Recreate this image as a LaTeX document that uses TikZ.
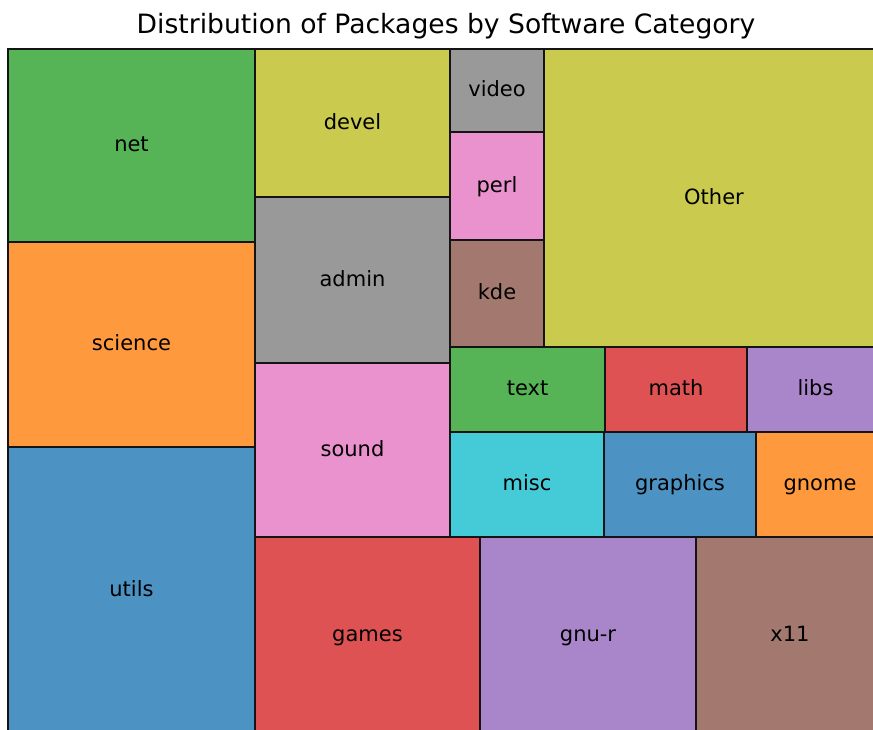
\documentclass[tikz,border=0pt]{standalone}
\usepackage{fontspec}
\setmainfont{DejaVu Sans}
\usetikzlibrary{calc}
\definecolor{cblue}{HTML}{4C92C3}
\definecolor{corange}{HTML}{FF993E}
\definecolor{cgreen}{HTML}{56B356}
\definecolor{cred}{HTML}{DE5253}
\definecolor{cpurple}{HTML}{A985CA}
\definecolor{cbrown}{HTML}{A3786F}
\definecolor{cpink}{HTML}{E992CE}
\definecolor{cgray}{HTML}{999999}
\definecolor{colive}{HTML}{C9CA4E}
\definecolor{ccyan}{HTML}{45CBD8}
\tikzset{
  cellline/.style={draw=black!92, line width=2pt},
  lab/.style={font=\fontsize{21}{25}\selectfont, text=black, inner sep=0pt, text height=12.6pt, text depth=0pt},
  titlelab/.style={font=\fontsize{26.6}{31}\selectfont, text=black, inner sep=0pt, anchor=base}
}
\newcommand{\tmcell}[7]{%
  \draw[cellline, fill=#6] (#2,#3) rectangle (#4,#5);
  \node[lab] (#1) at ($(#2,#3)!0.5!(#4,#5)$) {#7};
}
\begin{document}
\begin{tikzpicture}[x=1pt,y=-1pt]
\useasboundingbox (0,0) rectangle (873,729);
\fill[white] (0,0) rectangle (873,729);
\clip (0,0) rectangle (873,729);
\node[titlelab] (title) at (446,33.5) {Distribution of Packages by Software Category};
\tmcell{net}{8}{49}{255}{242}{cgreen}{net}
\tmcell{science}{8}{242}{255}{447}{corange}{science}
\tmcell{utils}{8}{447}{255}{734}{cblue}{utils}
\tmcell{devel}{255}{49}{450}{197}{colive}{devel}
\tmcell{admin}{255}{197}{450}{363}{cgray}{admin}
\tmcell{sound}{255}{363}{450}{537}{cpink}{sound}
\tmcell{games}{255}{537}{480}{734}{cred}{games}
\tmcell{gnur}{480}{537}{696}{734}{cpurple}{gnu-r}
\tmcell{xeleven}{696}{537}{884}{734}{cbrown}{x11}
\tmcell{video}{450}{49}{544}{132}{cgray}{video}
\tmcell{perl}{450}{132}{544}{240}{cpink}{perl}
\tmcell{kde}{450}{240}{544}{347}{cbrown}{kde}
\tmcell{other}{544}{49}{884}{347}{colive}{Other}
\tmcell{text}{450}{347}{605}{432}{cgreen}{text}
\tmcell{math}{605}{347}{747}{432}{cred}{math}
\tmcell{libs}{747}{347}{884}{432}{cpurple}{libs}
\tmcell{misc}{450}{432}{604}{537}{ccyan}{misc}
\tmcell{graphics}{604}{432}{756}{537}{cblue}{graphics}
\tmcell{gnome}{756}{432}{884}{537}{corange}{gnome}
\end{tikzpicture}
\end{document}
